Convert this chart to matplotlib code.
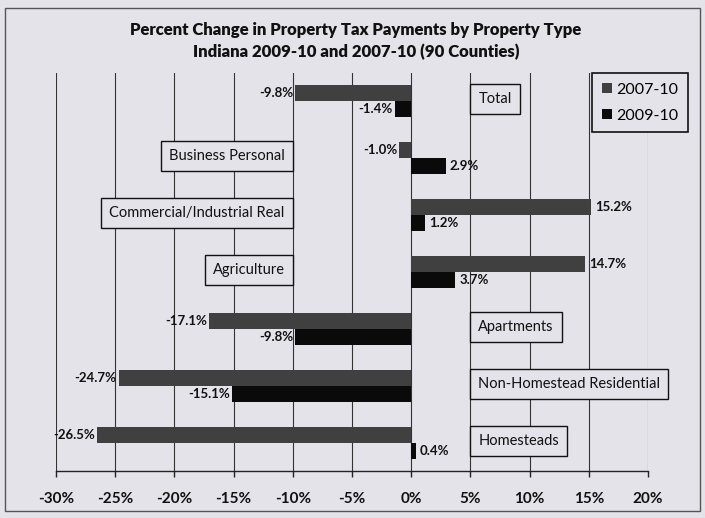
import matplotlib.pyplot as plt
import numpy as np
from matplotlib.patches import Rectangle

plt.rcParams['font.family'] = ['Lato', 'DejaVu Sans']

# Percent change in property tax payments, by property type (top to bottom)
categories = ['Total', 'Business Personal', 'Commercial/Industrial Real',
              'Agriculture', 'Apartments', 'Non-Homestead Residential', 'Homesteads']
change_0710 = [-9.8, -1.0, 15.2, 14.7, -17.1, -24.7, -26.5]
change_0910 = [-1.4, 2.9, 1.2, 3.7, -9.8, -15.1, 0.4]
ticks = [-30, -25, -20, -15, -10, -5, 0, 5, 10, 15, 20]
# which side of the axis the category box sits on
label_side = ['right', 'left', 'left', 'left', 'right', 'right', 'right']

bg = '#e3e3e9'
c0710 = '#404040'
c0910 = '#0a0a0a'

fig = plt.figure(figsize=(7.05, 5.18), dpi=100, facecolor=bg)
ax = fig.add_axes([0.0794, 0.0898, 0.8397, 0.7702])
ax.set_facecolor(bg)

# outer frame of the chart
fig.patches.append(Rectangle((5 / 705, 1 - 511 / 518), 695 / 705, 503 / 518,
                             transform=fig.transFigure, fill=False,
                             edgecolor='#555555', lw=1.0))

n = len(categories)
y = np.arange(n)[::-1].astype(float)
h = 0.275

bars1 = ax.barh(y + h / 2, change_0710, height=h, color=c0710, label='2007-10', zorder=3)
bars2 = ax.barh(y - h / 2, change_0910, height=h, color=c0910, label='2009-10', zorder=3)

# value labels at the bar ends
for bars, vals in [(bars1, change_0710), (bars2, change_0910)]:
    for b, v in zip(bars, vals):
        yc = b.get_y() + b.get_height() / 2
        off = 3 if v >= 0 else -1.5
        ax.annotate(f'{v:.1f}%', xy=(v, yc), xytext=(off, 0), textcoords='offset points',
                    ha='left' if v >= 0 else 'right', va='center',
                    fontsize=9.5, fontweight='bold', color='#111111', zorder=5)

# boxed category names
for cat, yc, side in zip(categories, y, label_side):
    box = dict(boxstyle='square,pad=0.55', facecolor=bg, edgecolor='#111111', lw=1.0)
    if side == 'left':
        ax.annotate(cat, xy=(-10, yc), xytext=(-5.8, 1.5), textcoords='offset points',
                    ha='right', va='center', fontsize=10.5, color='#111111', bbox=box, zorder=6)
    else:
        ax.annotate(cat, xy=(5, yc), xytext=(5.8, 1.5), textcoords='offset points',
                    ha='left', va='center', fontsize=10.5, color='#111111', bbox=box, zorder=6)

ax.set_xlim(-30, 20)
ax.set_ylim(-0.5, n - 0.5)
ax.set_xticks(ticks)
ax.set_xticklabels([f'{t}%' for t in ticks], fontsize=11, fontweight='bold', color='#111111')
ax.set_yticks([])
ax.tick_params(axis='x', length=4, width=1, pad=11, color='#222222')
for t in ticks:
    ax.axvline(t, color='#333333', lw=0.8, zorder=1)
for s in ['top', 'right', 'left']:
    ax.spines[s].set_visible(False)
ax.spines['bottom'].set_color('#222222')
ax.spines['bottom'].set_linewidth(1.0)

fig.text(0.505, 1 - 30 / 518, 'Percent Change in Property Tax Payments by Property Type',
         ha='center', va='center', fontsize=12, fontweight='heavy', color='#111111')
fig.text(0.505, 1 - 52 / 518, 'Indiana 2009-10 and 2007-10 (90 Counties)',
         ha='center', va='center', fontsize=12, fontweight='heavy', color='#111111')

leg = ax.legend(loc='upper right', bbox_to_anchor=(688 / 705, 1 - 73 / 518),
                bbox_transform=fig.transFigure, fontsize=11.5, frameon=True,
                fancybox=False, framealpha=1, facecolor=bg, edgecolor='#111111',
                handlelength=0.6, handleheight=0.6, handletextpad=0.3,
                labelspacing=0.75, borderpad=0.6, borderaxespad=0)
leg.get_frame().set_linewidth(1.2)

fig.savefig('out.png', dpi=100, facecolor=bg)
